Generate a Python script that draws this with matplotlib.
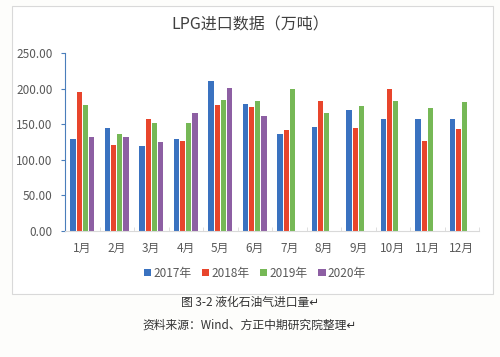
import numpy as np
import matplotlib
matplotlib.use('Agg')
from matplotlib import pyplot as plt
from matplotlib.patches import Rectangle

plt.rcParams['font.family'] = ['Noto Sans CJK SC', 'DejaVu Sans']

months = ['1月', '2月', '3月', '4月', '5月', '6月', '7月', '8月', '9月', '10月', '11月', '12月']
years = ['2017年', '2018年', '2019年', '2020年']
y2017 = [129, 144, 120, 129, 211, 179, 136, 146, 170, 157, 157, 158]
y2018 = [195, 121, 158, 126, 177, 174, 142, 182, 144, 200, 126, 143]
y2019 = [177, 136, 152, 152, 184, 182, 200, 166, 176, 182, 173, 181]
y2020 = [132, 132, 125, 166, 201, 161, np.nan, np.nan, np.nan, np.nan, np.nan, np.nan]
colors = ['#3a72c0', '#e8452c', '#76b856', '#8d5fa3']

W, H = 500, 357
fig = plt.figure(figsize=(W / 100, H / 100), dpi=100)
fig.patch.set_facecolor('#fdfdfb')

# chart frame, kept behind the axes
fig.patches.append(Rectangle((12 / W, 1 - 294 / H), 481 / W, 288 / H,
                             transform=fig.transFigure, facecolor='white',
                             edgecolor='#d9d9d9', lw=0.8, zorder=-5))

ax = fig.add_axes([65 / W, 1 - 231 / H, 414 / W, 178 / H])
ax.patch.set_alpha(0)

x = np.arange(len(months))
series = [y2017, y2018, y2019, y2020]
w = 0.15
pitch = 0.18
for i, (vals, c, lab) in enumerate(zip(series, colors, years)):
    ax.bar(x + (i - 1.5) * pitch, vals, w, color=c, label=lab)

ax.set_xlim(-0.5, 11.5)
ax.set_ylim(0, 250)
ax.set_yticks(np.arange(0, 251, 50))
ax.set_yticklabels(['%.2f' % v for v in np.arange(0, 251, 50)])
ax.set_xticks(x)
ax.set_xticklabels(months)
ax.set_xticks(np.arange(-0.5, 12, 1), minor=True)
ax.tick_params(axis='x', which='major', length=0, pad=8, labelsize=8.5, colors='#595959')
ax.tick_params(axis='x', which='minor', length=3, color='#d9d9d9', direction='in')
ax.tick_params(axis='y', length=3, pad=6, labelsize=8.5, colors='#595959')
ax.tick_params(axis='y', color='#4a7ebb')
for s in ['top', 'right']:
    ax.spines[s].set_visible(False)
ax.spines['left'].set_color('#4a7ebb')
ax.spines['bottom'].set_color('#d9d9d9')

fig.text(0.5, 1 - 25 / H, 'LPG进口数据（万吨）', ha='center', va='center',
         fontsize=11.5, color='#404040')

fig.legend(loc='center', bbox_to_anchor=(0.51, 1 - 273 / H), ncol=4, frameon=False,
           fontsize=8.5, handlelength=0.6, handleheight=0.6, handletextpad=0.2,
           columnspacing=0.9, labelcolor='#595959')

fig.text(0.5, 1 - 302 / H, '图 3-2 液化石油气进口量↵', ha='center', va='center',
         fontsize=8.5, color='#333333')
fig.text(0.5, 1 - 325 / H, '资料来源：Wind、方正中期研究院整理↵', ha='center', va='center',
         fontsize=8.5, color='#333333')

fig.savefig('out.png', dpi=100, facecolor=fig.get_facecolor())
